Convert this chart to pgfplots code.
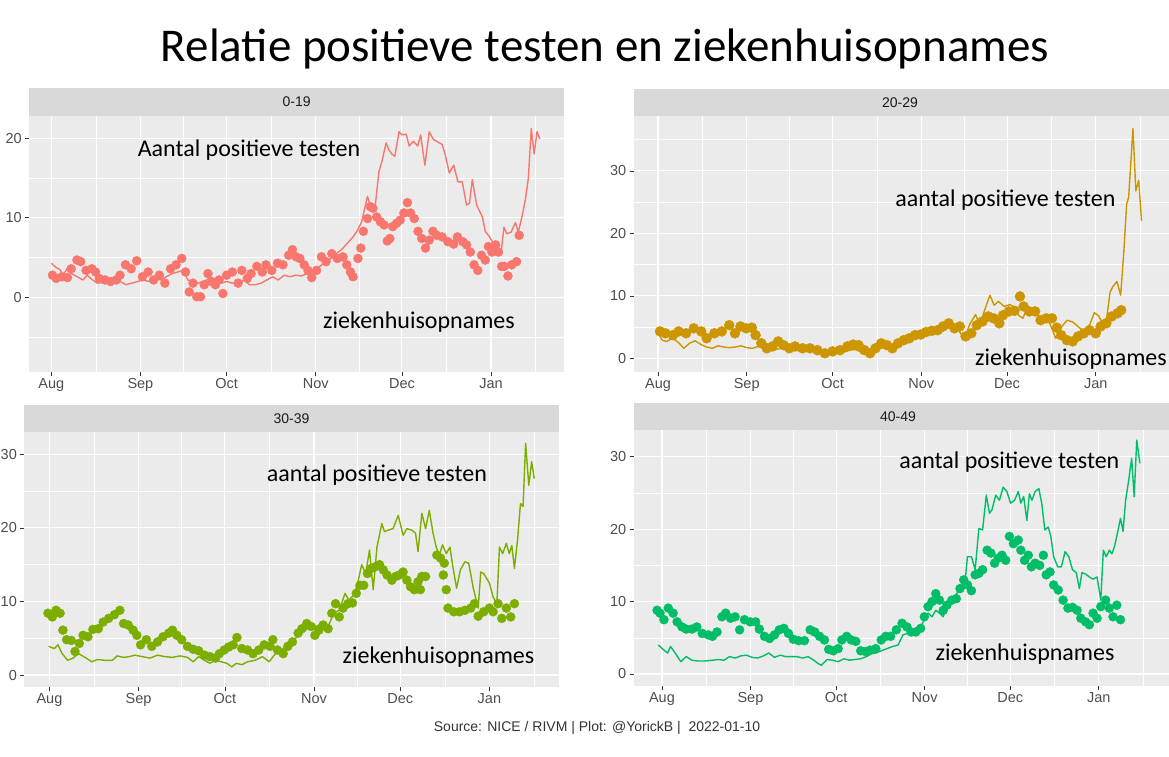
\documentclass[border=0pt]{standalone}
\usepackage{fontspec}
\setmainfont{Carlito}
\newfontfamily\arial{Liberation Sans}
\usepackage{pgfplots}
\pgfplotsset{compat=1.18}
\definecolor{cA}{HTML}{F8766D}
\definecolor{cB}{HTML}{CD9600}
\definecolor{cC}{HTML}{7CAE00}
\definecolor{cD}{HTML}{00BE67}
\definecolor{panelbg}{HTML}{EBEBEB}
\definecolor{stripbg}{HTML}{D9D9D9}
\definecolor{ticktext}{HTML}{4D4D4D}
\definecolor{tickline}{HTML}{333333}
\definecolor{striptext}{HTML}{1A1A1A}
\pgfplotsset{
  panel/.style={
    scale only axis, anchor=south west,
    axis background/.style={fill=panelbg},
    axis line style={draw=none},
    grid=both,
    major grid style={white, line width=1.1pt},
    minor grid style={white, line width=0.55pt},
    xtick={0,31,61,92,122,153},
    xticklabels={Aug,Sep,Oct,Nov,Dec,Jan},
    minor xtick={15.5,46,76.5,107,137.5,168.5},
    tick align=outside, xtick pos=bottom, ytick pos=left,
    major tick length=4pt, minor tick length=0pt,
    tick style={draw=tickline, line width=0.6pt},
    tick label style={font=\arial\fontsize{14.5}{14.5}\selectfont, text=ticktext},
    /pgf/number format/assume math mode=true,
    xticklabel style={yshift=1pt},
    clip=true,
  },
  pts/.style={color=#1, only marks, mark=*, mark size=4.5pt, mark options={draw=none, fill=#1}},
  ln/.style={color=#1, no marks, line width=1.4pt, line join=round},
}
\begin{document}
\begin{tikzpicture}
\path[use as bounding box] (0pt,0pt) rectangle (1169pt,756pt);
% title
\node[anchor=base, font=\fontsize{47}{47}\selectfont] at (605pt,694pt) {Relatie positieve testen en ziekenhuisopnames};
% strips
\fill[stripbg] (29.2pt,640pt) rectangle (564pt,668pt);
\node[font=\arial\fontsize{14}{14}\selectfont, text=striptext] at (296.6pt,654pt) {0-19};
\fill[stripbg] (633.7pt,640pt) rectangle (1169pt,667pt);
\node[font=\arial\fontsize{14}{14}\selectfont, text=striptext] at (900pt,653.5pt) {20-29};
\fill[stripbg] (24.4pt,323.7pt) rectangle (558.7pt,351pt);
\node[font=\arial\fontsize{14}{14}\selectfont, text=striptext] at (291.5pt,337.3pt) {30-39};
\fill[stripbg] (633.7pt,326pt) rectangle (1169pt,353.3pt);
\node[font=\arial\fontsize{14}{14}\selectfont, text=striptext] at (898pt,339.6pt) {40-49};

% ---------------- panel 0-19
\begin{axis}[panel, at={(29.2pt,384.3pt)}, width=534.8pt, height=255.7pt,
  xmin=-7.7, xmax=178.4, ymin=-9.31, ymax=22.77,
  ytick={0,10,20}, minor ytick={-5,5,15}]
\addplot[pts=cA] coordinates {(0.4,2.8)(1.7,2.4)(3.7,2.6)(5.6,2.5)(6.9,3.6)(8.9,4.7)(10.2,4.5)(12.1,3.4)(14.1,3.6)(15.4,3.2)(16.7,2.4)(18.7,2.2)(20.6,2.0)(22.6,2.2)(23.9,2.8)(25.8,4.1)(27.8,3.6)(29.7,4.6)(31.7,2.6)(33.7,3.2)(35.6,2.2)(37.6,2.8)(39.5,1.8)(41.5,3.6)(43.4,4.1)(45.4,4.9)(46.7,3.2)(48.0,0.7)(49.3,1.8)(50.6,0.1)(51.9,0.1)(53.2,1.6)(54.5,3.0)(55.8,2.0)(57.1,1.6)(58.4,2.2)(59.7,0.5)(61.0,2.8)(63.0,3.2)(65.0,1.8)(66.3,3.4)(68.2,2.4)(69.5,3.0)(71.5,3.9)(73.4,3.2)(74.7,4.1)(76.7,3.4)(78.7,4.3)(80.6,4.1)(82.6,5.3)(83.9,6.0)(85.2,5.1)(86.5,4.9)(88.0,4.1)(89.3,3.4)(90.6,2.5)(92.3,3.4)(94.0,5.1)(95.6,4.5)(97.6,5.5)(99.5,4.9)(101.5,5.1)(102.8,4.1)(104.1,3.2)(105.0,2.6)(106.7,4.9)(107.7,6.2)(108.6,8.3)(110.0,9.9)(111.0,11.4)(111.9,11.2)(113.2,10.1)(114.5,9.5)(115.8,9.1)(116.9,7.1)(117.8,7.4)(118.8,8.9)(120.1,9.3)(121.4,9.7)(122.7,10.6)(123.9,11.9)(125.0,10.6)(126.3,9.9)(127.6,8.3)(128.9,7.4)(130.2,6.2)(131.5,7.2)(132.8,8.3)(134.1,7.8)(136.0,7.6)(138.0,7.0)(140.0,6.7)(141.3,7.6)(143.2,7.0)(144.5,6.6)(145.8,5.7)(147.1,4.1)(148.4,3.4)(149.7,5.3)(151.0,4.7)(152.1,6.4)(153.3,5.7)(154.6,6.6)(155.6,5.7)(156.7,3.9)(157.6,3.9)(158.9,2.7)(160.2,4.1)(161.9,4.5)(162.8,7.8)};
\addplot[ln=cA] coordinates {(0,4.3)(1.5,3.8)(3,3.5)(4,2.8)(5.5,3.6)(7,3.0)(9,2.6)(11,2.2)(12.5,2.8)(14,2.3)(16,1.8)(18,1.9)(20,1.8)(22,2.3)(24,2.0)(26,1.6)(28,1.8)(30,2.0)(32,2.2)(34,2.0)(36,2.4)(38,2.2)(40,2.6)(42,3.0)(44,3.2)(46,3.4)(47.5,2.2)(49,2.0)(51,1.8)(53,2.0)(55,2.4)(57,2.0)(59,1.8)(61,2.0)(63,1.8)(65,1.7)(67,2.2)(69,1.6)(71,1.6)(73,1.8)(75,2.2)(77,2.6)(79,2.2)(81,2.8)(83,2.6)(85,2.8)(87,2.7)(89,3.0)(91,3.2)(93,3.8)(95,4.3)(97,4.8)(99.5,5.6)(101,6.0)(103,6.8)(105,7.6)(106.5,8.4)(108,9.5)(110,12.7)(111,11.5)(112.5,10.8)(114,15.8)(115,17.0)(116.5,19.4)(117.5,18.5)(118.5,18.0)(119.5,17.7)(121,20.8)(122,20.4)(123.5,20.5)(124.5,19.0)(126,19.6)(127.5,19.0)(128.5,20.4)(130,16.6)(131.5,20.8)(133,19.8)(134.5,19.5)(136,19.2)(137,18.0)(138.5,15.6)(140,16.6)(141.5,14.5)(143,14.5)(144.5,11.6)(145.5,11.8)(146.5,14.8)(148,11.6)(150,10.1)(151,8.3)(152.5,7.6)(154,6.6)(155.5,6.0)(156.5,5.6)(157.5,8.8)(158.5,8.0)(160,8.2)(161.5,9.4)(162.5,8.2)(164,10.5)(165,12.4)(166,15.0)(167,21.2)(168,18.0)(169,20.8)(170,19.9)};
\end{axis}
\node[anchor=base, font=\fontsize{24}{24}\selectfont] at (249pt,599pt) {Aantal positieve testen};
\node[anchor=base, font=\fontsize{24}{24}\selectfont] at (419pt,427.7pt) {ziekenhuisopnames};

% ---------------- panel 20-29
\begin{axis}[panel, at={(633.7pt,384.3pt)}, width=535.3pt, height=255.7pt,
  xmin=-8.5, xmax=178.6, ymin=-2.15, ymax=38.8,
  ytick={0,10,20,30}, minor ytick={5,15,25,35}]
\addplot[pts=cB, mark size=5pt] coordinates {(0.7,4.3)(2.6,4.0)(5.2,3.7)(7.2,4.3)(9.8,4.0)(12.5,4.8)(15.1,4.3)(17.0,3.2)(19.7,4.0)(22.3,4.3)(24.9,5.3)(26.9,4.0)(28.8,5.1)(30.8,4.8)(32.8,4.9)(34.1,3.7)(36.1,2.4)(38.0,1.6)(40.0,1.9)(42.0,2.7)(43.9,2.1)(45.9,1.6)(47.9,1.9)(50.5,1.6)(53.1,1.6)(55.7,1.3)(58.3,0.8)(61.0,1.1)(63.6,1.3)(66.2,1.9)(68.2,2.2)(70.1,2.1)(72.1,1.3)(74.1,0.8)(76.0,1.6)(78.0,2.4)(80.0,2.1)(81.9,1.6)(83.9,2.4)(85.9,2.9)(87.8,3.2)(89.8,3.7)(91.8,3.8)(93.7,4.2)(95.7,4.4)(97.7,4.5)(99.6,5.1)(101.6,5.6)(103.6,4.8)(105.5,5.1)(107.5,3.5)(109.5,4.0)(111.4,5.3)(113.4,5.9)(115.4,6.7)(117.3,6.4)(119.3,5.6)(120.6,6.9)(122.6,7.5)(124.6,7.6)(126.5,9.9)(127.8,8.3)(129.8,7.5)(131.8,7.5)(133.7,6.1)(135.7,6.4)(137.7,6.4)(139.4,4.9)(140.9,3.7)(142.9,2.9)(144.9,2.7)(146.8,3.5)(148.8,4.0)(150.8,4.5)(153.0,4.0)(154.7,5.1)(156.7,5.6)(158.6,6.7)(160.6,7.2)(161.9,7.7)};
\addplot[ln=cB] coordinates {(0,4.0)(1.5,2.9)(3,2.7)(5,3.2)(7,2.6)(9,1.6)(11,2.4)(13,2.8)(15,2.2)(17,1.8)(19,1.6)(21,2.0)(23,1.8)(25,1.7)(27,1.8)(29,2.0)(31,1.7)(33,1.6)(35,1.9)(37,1.8)(39,1.6)(41,1.4)(43,1.6)(45,1.3)(47,1.5)(49,1.2)(51,1.2)(53,1.4)(55,1.0)(57,1.2)(59,1.0)(61,1.0)(63,1.2)(65,1.0)(67,1.3)(69,1.4)(71,1.0)(73,0.9)(75,1.2)(77,1.4)(79,1.8)(81,2.0)(83,2.2)(85,2.5)(87,3.0)(89,3.3)(91,3.6)(93,3.5)(95,4.0)(97,4.5)(99,4.2)(101,4.8)(103,5.0)(105,4.6)(107,3.0)(109,5.5)(111,7.0)(112.5,5.3)(114,7.5)(116,10.1)(117.5,8.5)(119,9.1)(121,8.3)(123,8.6)(124.5,8.2)(126,6.9)(127.5,6.4)(129,8.0)(131,7.2)(133,6.8)(135,6.6)(137,5.5)(139,3.2)(141,5.0)(143,6.1)(145,5.8)(147,5.0)(149,4.3)(151,5.5)(152.5,7.3)(154,6.8)(155,5.9)(156.8,6.4)(158,10.6)(159,11.5)(160.4,12.3)(161.7,10.1)(162.8,17.0)(163.8,24.7)(164.5,25.8)(166,36.8)(167,26.8)(168,28.5)(169,22.0)};
\end{axis}
\node[anchor=base, font=\fontsize{24}{24}\selectfont] at (1005.5pt,549.3pt) {aantal positieve testen};
\node[anchor=base east, font=\fontsize{24}{24}\selectfont, inner sep=0pt] at (1167pt,391pt) {ziekenhuisopnames};

% ---------------- panel 30-39
\begin{axis}[panel, at={(24.4pt,68.7pt)}, width=534.3pt, height=255pt,
  xmin=-8.7, xmax=177.1, ymin=-1.67, ymax=33.0,
  ytick={0,10,20,30}, minor ytick={5,15,25}]
\addplot[pts=cC] coordinates {(-0.5,8.4)(1.0,7.9)(2.3,8.8)(3.7,8.4)(4.7,6.1)(6.0,4.8)(7.6,4.7)(8.9,3.2)(10.4,4.3)(11.7,5.4)(13.4,5.2)(15.1,6.2)(17.0,6.3)(18.7,7.2)(20.6,7.7)(22.6,8.2)(24.5,8.8)(25.8,7.0)(27.4,6.8)(29.1,6.1)(30.4,5.4)(31.7,4.1)(33.7,4.8)(35.6,3.9)(37.6,4.5)(39.5,5.2)(41.5,5.7)(42.8,6.1)(44.3,5.4)(46.0,4.8)(48.0,3.9)(50.0,3.5)(51.9,3.3)(53.9,2.7)(55.8,2.5)(57.8,2.3)(59.1,2.9)(60.8,3.4)(62.3,3.8)(63.9,4.1)(65.2,5.1)(66.9,3.6)(68.9,3.4)(70.8,2.9)(72.8,3.4)(74.7,4.1)(76.7,3.9)(77.7,4.8)(79.3,3.4)(81.3,2.9)(82.9,3.9)(84.5,4.5)(86.5,5.7)(87.8,6.3)(89.5,7.0)(91.0,6.6)(92.3,5.4)(93.7,6.1)(95.2,6.8)(96.9,6.3)(98.2,8.4)(99.5,9.7)(100.8,7.9)(102.1,9.1)(103.8,9.7)(105.4,9.8)(106.7,11.1)(108.0,12.2)(109.3,12.2)(110.6,13.8)(111.9,14.5)(113.2,14.7)(114.8,15.0)(116.1,14.3)(117.4,13.6)(119.1,12.9)(120.4,13.4)(121.7,13.6)(123.0,14.0)(124.3,12.9)(125.6,12.0)(126.9,11.6)(128.2,12.7)(129.0,11.6)(129.5,13.4)(130.8,13.4)(134.7,16.3)(136.0,15.9)(137.0,13.6)(137.3,15.2)(138.0,11.6)(138.6,9.1)(140.6,8.6)(142.6,8.6)(144.5,8.8)(146.5,9.1)(147.8,9.7)(149.1,8.0)(151.0,8.6)(153.0,9.1)(154.3,8.6)(156.0,9.7)(157.3,7.7)(158.9,9.1)(160.4,7.9)(161.7,9.7)};
\addplot[ln=cC] coordinates {(-0.3,3.9)(1.7,3.6)(3.0,4.1)(4.3,3.0)(6.3,2.0)(8.2,2.3)(10.2,2.9)(12.8,2.3)(14.7,1.8)(16.7,2.1)(19.3,2.0)(21.9,2.0)(23.5,2.6)(25.8,2.4)(27.8,2.5)(29.7,2.7)(32.3,2.5)(35.0,2.3)(37.6,2.7)(40.2,2.5)(42.8,2.4)(45.4,2.6)(48.0,2.4)(50.0,1.8)(51.9,2.5)(53.9,2.0)(55.8,1.6)(57.8,2.0)(59.7,1.8)(61.7,1.6)(63.4,1.1)(65.0,1.6)(66.9,1.4)(68.9,1.8)(71.5,2.0)(74.1,2.5)(76.4,1.8)(78.6,2.9)(80.6,3.4)(83.2,4.1)(85.2,4.8)(87.1,5.7)(89.1,6.1)(91.0,7.0)(93.0,6.6)(94.9,7.2)(96.9,6.6)(98.9,8.4)(100.8,8.8)(102.8,11.1)(104.1,10.2)(106.0,10.9)(107.3,12.7)(108.6,15.0)(110.0,13.8)(111.3,17.0)(112.6,11.6)(113.9,17.4)(115.6,20.6)(116.5,19.5)(117.8,19.7)(119.5,19.9)(121.3,21.7)(123.0,19.0)(124.3,19.9)(126.0,19.7)(127.3,19.3)(128.2,16.8)(129.5,22.0)(130.8,19.9)(132.1,22.4)(133.4,19.3)(134.5,17.4)(135.6,16.3)(136.7,17.7)(138.0,16.5)(139.3,17.4)(140.3,14.7)(141.6,11.8)(142.9,14.3)(144.5,15.4)(145.8,15.2)(147.4,11.8)(149.1,9.1)(150.0,14.0)(151.0,13.8)(153.0,12.5)(154.3,10.6)(155.6,9.7)(156.5,17.4)(157.6,16.5)(158.9,17.9)(159.9,16.5)(160.8,17.6)(161.7,14.5)(162.8,18.4)(163.8,23.3)(164.7,22.9)(165.6,31.5)(166.7,25.8)(167.7,29.0)(168.6,26.7)};
\end{axis}
\node[anchor=base, font=\fontsize{24}{24}\selectfont] at (376.9pt,274.3pt) {aantal positieve testen};
\node[anchor=base, font=\fontsize{24}{24}\selectfont] at (438.5pt,92.7pt) {ziekenhuisopnames};

% ---------------- panel 40-49
\begin{axis}[panel, at={(633.7pt,70pt)}, width=535.3pt, height=256pt,
  xmin=-9.9, xmax=177.6, ymin=-1.66, ymax=33.7,
  ytick={0,10,20,30}, minor ytick={5,15,25}]
\addplot[pts=cD] coordinates {(-1.7,8.8)(-0.7,8.4)(0.7,7.5)(2.2,9.1)(3.9,8.4)(5.3,7.2)(7.0,6.5)(8.5,6.2)(10.5,6.2)(12.2,6.5)(14.1,5.6)(16.2,5.4)(17.7,5.2)(19.3,5.8)(21.0,7.9)(22.3,8.4)(24.0,7.7)(25.6,7.9)(27.2,6.1)(28.9,7.5)(30.9,7.2)(32.8,7.2)(34.1,6.2)(35.9,5.2)(37.7,4.9)(39.4,5.4)(41.1,6.1)(42.7,6.3)(44.3,5.6)(46.0,4.8)(47.9,4.6)(49.9,4.6)(51.9,6.1)(53.5,5.8)(55.2,5.2)(56.9,4.7)(58.4,3.4)(60.0,3.2)(61.7,3.5)(63.0,4.7)(64.7,5.2)(66.3,4.7)(67.9,4.5)(69.6,3.2)(71.3,3.1)(72.9,3.3)(74.9,3.5)(76.8,4.7)(78.4,5.2)(80.1,5.2)(82.1,6.1)(84.1,7.0)(85.8,6.5)(87.3,5.8)(88.9,5.8)(90.6,6.3)(91.9,7.9)(93.2,9.3)(94.6,10.0)(95.9,11.1)(97.2,10.2)(98.5,8.8)(99.8,9.5)(101.5,10.2)(103.1,10.4)(104.4,11.8)(105.7,13.0)(107.0,12.3)(108.4,11.5)(109.7,13.7)(111.0,13.9)(112.3,14.4)(113.9,17.1)(115.2,16.7)(116.5,15.3)(117.8,16.0)(119.1,16.4)(120.4,15.7)(121.7,19.0)(123.1,18.0)(124.8,18.5)(125.7,17.1)(127.0,15.7)(128.3,16.4)(129.4,14.8)(130.7,15.3)(132.3,15.0)(133.6,16.4)(134.6,13.7)(135.9,14.1)(137.2,12.3)(138.8,11.6)(140.5,10.2)(142.2,9.1)(143.8,9.2)(145.4,8.8)(146.7,7.7)(148.4,7.2)(149.7,6.8)(151.0,8.4)(152.4,7.7)(153.7,9.3)(155.4,10.2)(156.7,9.1)(158.0,7.9)(159.3,9.5)(160.6,7.5)};
\addplot[ln=cD] coordinates {(-1.3,4.0)(0.7,3.3)(2.0,2.9)(3.0,3.8)(4.6,2.9)(6.6,1.7)(8.5,2.4)(10.5,1.9)(12.5,1.8)(15.1,1.8)(17.7,1.9)(19.7,2.0)(21.7,1.9)(23.6,2.4)(25.6,2.2)(27.6,2.5)(29.6,2.6)(31.5,2.3)(33.5,2.2)(35.5,2.5)(37.4,2.9)(39.4,2.3)(41.4,2.6)(43.3,2.4)(45.3,2.4)(47.3,2.4)(49.3,2.2)(51.2,2.4)(53.2,1.9)(54.5,1.5)(55.8,1.2)(57.8,2.0)(59.8,1.9)(61.7,1.7)(63.7,2.1)(65.7,1.9)(67.6,2.0)(69.6,2.1)(71.6,2.4)(73.5,2.8)(74.9,2.9)(76.8,3.2)(78.8,3.5)(80.8,3.8)(82.7,4.0)(84.4,5.4)(86.0,5.6)(87.3,6.1)(88.7,6.1)(90.6,6.5)(91.9,7.5)(93.2,8.4)(94.6,7.9)(95.9,8.8)(97.2,8.4)(98.5,7.9)(99.8,9.3)(101.1,10.0)(102.4,10.7)(103.8,11.4)(105.1,12.1)(106.4,13.7)(107.0,16.2)(108.4,16.2)(109.7,14.4)(111.0,20.1)(112.3,19.9)(113.6,24.7)(114.7,22.2)(115.6,22.7)(116.9,24.7)(118.2,24.0)(119.5,25.8)(120.8,25.2)(122.1,23.6)(123.5,24.0)(124.8,25.2)(125.7,23.6)(126.7,24.5)(127.8,21.2)(128.7,24.9)(129.6,24.0)(130.7,25.2)(132.0,25.6)(133.0,23.6)(134.1,19.9)(135.3,20.3)(136.2,19.0)(137.2,16.2)(138.6,14.8)(139.9,14.8)(141.2,16.9)(142.5,16.2)(143.8,14.4)(145.1,14.0)(146.2,11.8)(147.1,14.0)(148.4,13.8)(149.7,13.4)(151.0,13.1)(152.4,13.4)(153.7,10.2)(154.6,17.1)(155.6,16.2)(156.7,17.1)(157.6,16.6)(158.5,17.6)(159.5,19.4)(160.6,21.5)(161.5,19.7)(162.4,24.0)(163.5,26.8)(164.5,29.8)(165.4,24.5)(166.3,32.3)(167.4,29.1)};
\end{axis}
\node[anchor=base, font=\fontsize{24}{24}\selectfont] at (1009.3pt,287.7pt) {aantal positieve testen};
\node[anchor=base, font=\fontsize{24}{24}\selectfont] at (1025pt,96pt) {ziekenhuispnames};

% source
\node[anchor=base, font=\arial\fontsize{14}{14}\selectfont, text=black!80] at (597pt,24.3pt) {Source: NICE / RIVM | Plot: @YorickB |\ \ 2022-01-10};
\end{tikzpicture}
\end{document}
